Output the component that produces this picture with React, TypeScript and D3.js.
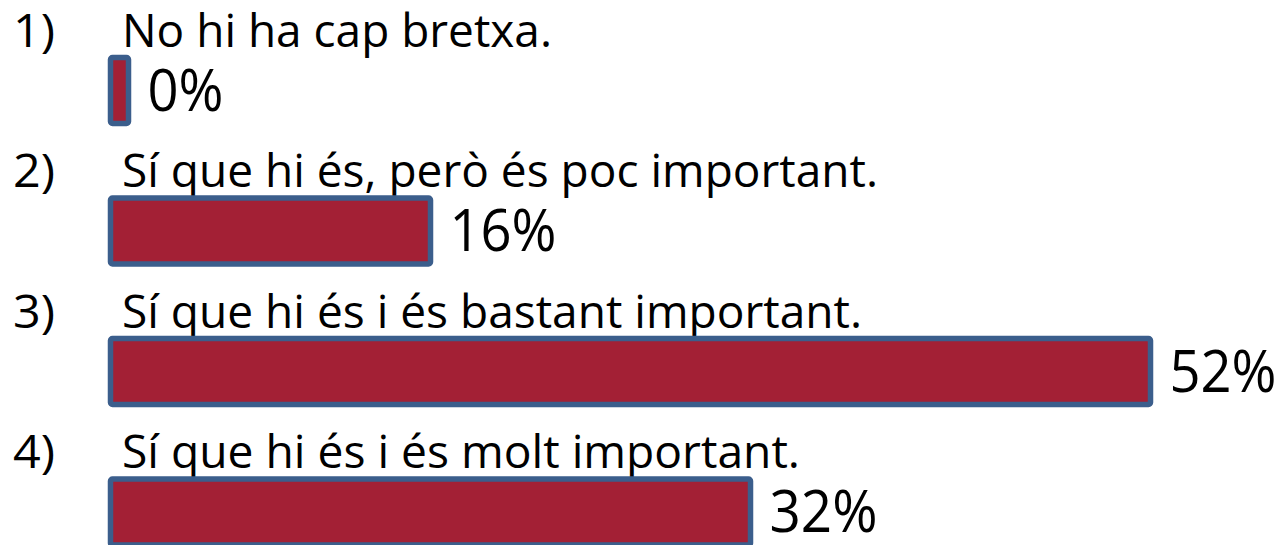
import React, { useEffect, useRef } from 'react';
import * as d3 from 'd3';

// survey answers, in order
const numbers = ['1)', '2)', '3)', '4)'];
const answers = [
  'No hi ha cap bretxa.',
  'Sí que hi és, però és poc important.',
  'Sí que hi és i és bastant important.',
  'Sí que hi és i és molt important.',
];
const percents = [0, 16, 52, 32];

const WIDTH = 1281;
const HEIGHT = 545;
const FONT = '"Open Sans", "Noto Sans", sans-serif';

const App = () => {
  const svgRef = useRef(null);

  useEffect(() => {
    const svg = d3.select(svgRef.current);
    svg.selectAll('*').remove();

    const x = d3.scaleLinear().domain([0, 100]).range([110.5, 2110.5]);
    const row = d3.scaleLinear().domain([0, 1]).range([57.5, 198]);
    const barHeight = 66;
    const minWidth = 18;

    const rows = percents.map((value, i) => ({
      value,
      num: numbers[i],
      label: answers[i],
      index: i,
    }));

    const g = svg.append('g');

    const items = g
      .selectAll('.row')
      .data(rows)
      .enter()
      .append('g')
      .attr('class', 'row');

    items
      .append('text')
      .attr('x', 13)
      .attr('y', (d) => row(d.index) - 11)
      .attr('font-family', FONT)
      .attr('font-size', 46)
      .attr('fill', '#000')
      .attr('textLength', 42)
      .attr('lengthAdjust', 'spacingAndGlyphs')
      .text((d) => d.num);

    // widths measured from the source so the text lines up
    const labelWidths = [430, 756, 740, 678];
    items
      .append('text')
      .attr('x', 122)
      .attr('y', (d) => row(d.index) - 11)
      .attr('font-family', FONT)
      .attr('font-size', 46)
      .attr('fill', '#000')
      .attr('textLength', (d) => labelWidths[d.index])
      .attr('lengthAdjust', 'spacingAndGlyphs')
      .text((d) => d.label);

    const barW = (d) => Math.max(minWidth, x(d.value) - x(0));

    items
      .append('rect')
      .attr('x', x(0))
      .attr('y', (d) => row(d.index))
      .attr('width', barW)
      .attr('height', barHeight)
      .attr('rx', 2)
      .attr('fill', '#a32035')
      .attr('stroke', '#3b5e8c')
      .attr('stroke-width', 5.5);

    const pctWidths = [76, 107, 107, 108];
    items
      .append('text')
      .attr('x', (d) => x(0) + barW(d) + 19)
      .attr('y', (d) => row(d.index) + barHeight / 2 + 20)
      .attr('font-family', FONT)
      .attr('font-size', 59)
      .attr('fill', '#000')
      .attr('textLength', (d) => pctWidths[d.index])
      .attr('lengthAdjust', 'spacingAndGlyphs')
      .text((d) => `${d.value}%`);
  }, []);

  return (
    <svg
      ref={svgRef}
      width={WIDTH}
      height={HEIGHT}
      style={{ position: 'absolute', left: 0, top: 0, background: '#fff' }}
    />
  );
};

export default App;
